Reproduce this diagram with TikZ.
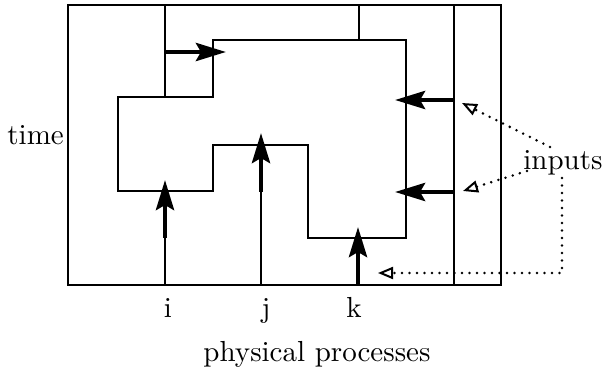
\documentclass[tikz,border=0pt]{standalone}
\usepackage{fontspec}
\setmainfont{lmroman10-regular}[Extension=.otf]
\usetikzlibrary{arrows.meta}
\begin{document}
\begin{tikzpicture}[x=1pt,y=-1pt,
  frameline/.style={line width=2pt},
  bigarrow/.style={line width=4.5pt,-{Stealth[length=30pt,width=18pt,inset=5pt]}},
  inputline/.style={line width=2.8pt,dash pattern=on 0pt off 7.5pt,line cap=round,
    -{Triangle[open,length=15pt,width=12pt,line width=2pt]}},
  lbl/.style={font=\fontsize{29}{34}\selectfont,inner sep=0pt}]
\useasboundingbox (0,0) rectangle (603,382);
% outer frame
\coordinate (TL) at (68,5);
\coordinate (BR) at (501,285);
\draw[frameline] (TL) rectangle (BR);
% process separators (upper)
\draw[frameline] (165,5) -- (165,97);
\draw[frameline] (359,5) -- (359,40);
\draw[frameline] (454,5) -- (454,285);
% cut / frontier
\draw[frameline] (118,97) -- (213,97) -- (213,40) -- (406,40) -- (406,238)
  -- (308,238) -- (308,145) -- (213,145) -- (213,191) -- (118,191) -- cycle;
% process lines
\draw[frameline] (165,285) -- (165,236);
\draw[frameline] (261,285) -- (261,190);
% thick arrows
\draw[bigarrow] (165,238) -- (165,180);
\draw[bigarrow] (261,192) -- (261,133);
\draw[bigarrow] (358,285) -- (358,227);
\draw[bigarrow] (165,52) -- (226,52);
\draw[bigarrow] (454,100) -- (395,100);
\draw[bigarrow] (454,192) -- (395,192);
% labels
\node[lbl,anchor=base east] (time) at (64,145) {time};
\node[lbl,anchor=base] (pi) at (168,318) {i};
\node[lbl,anchor=base] (pj) at (266,318) {j};
\node[lbl,anchor=base] (pk) at (354,318) {k};
\node[lbl,anchor=base] (phys) at (317,362) {physical processes};
\node[lbl,anchor=base] (inputs) at (563,170) {inputs};
% input connectors
\coordinate (in1) at (462,103);
\coordinate (in2) at (463,191);
\coordinate (in3) at (378,273);
\coordinate (corner) at (562,273);
\draw[inputline] (550,147) -- (in1);
\draw[inputline] (527,171) -- (in2);
\draw[inputline] (562,178) -- (corner) -- (in3);
\end{tikzpicture}
\end{document}
